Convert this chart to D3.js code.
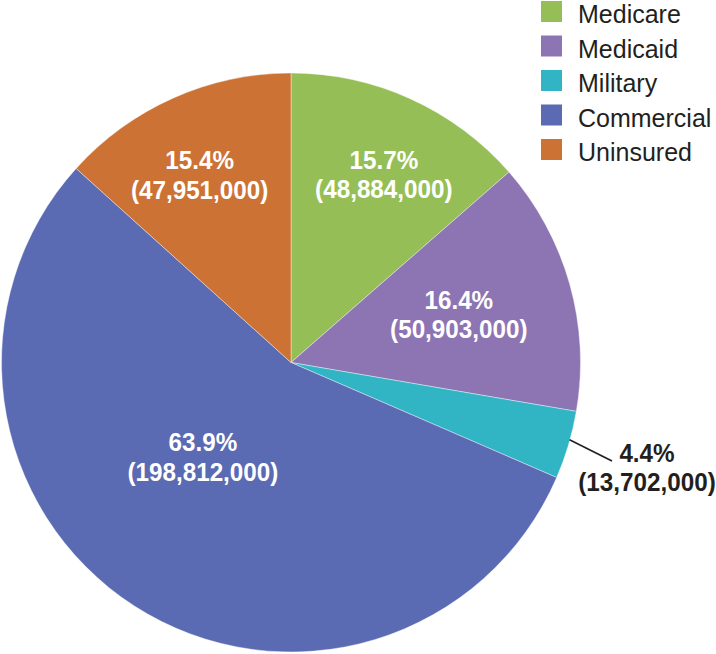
<!DOCTYPE html>
<html>
<head>
<meta charset="utf-8">
<script src="https://cdn.jsdelivr.net/npm/d3@7"></script>
<style>
  html, body { margin: 0; padding: 0; background: #fff; }
  svg { display: block; }
  text { font-family: "Liberation Sans", Arial, sans-serif; }
</style>
</head>
<body>
<svg id="chart" width="716" height="654"></svg>
<script>
const categories = ["Medicare", "Medicaid", "Military", "Commercial", "Uninsured"];
const values = [48884000, 50903000, 13702000, 198812000, 47951000];
const percentLabels = ["15.7%", "16.4%", "4.4%", "63.9%", "15.4%"];
const colors = ["#95bf56", "#8d74b3", "#31b4c3", "#5a6ab3", "#cc7235"];

const svg = d3.select("#chart");
const cx = 291, cy = 362.5, R = 289.5;

const pie = d3.pie().sort(null).value(d => d)(values);
const arc = d3.arc().innerRadius(0).outerRadius(R);

const g = svg.append("g").attr("transform", `translate(${cx},${cy})`);
g.selectAll("path.slice")
  .data(pie)
  .join("path")
  .attr("class", "slice")
  .attr("d", arc)
  .attr("fill", (d, i) => colors[i])
  .attr("stroke", "#fff")
  .attr("stroke-width", 0.4);

// label anchor placement (polar: angle in degrees clockwise from top, radius in px)
const labelPolar = [
  {a: 26.1, r: 211},
  {a: 73.5, r: 175},
  null,
  {a: 223.5, r: 128},
  {a: 334.2, r: 210}
];
const fmt = d3.format(",");

pie.forEach((d, i) => {
  const lp = labelPolar[i];
  if (!lp) return;
  const rad = lp.a * Math.PI / 180;
  const x = lp.r * Math.sin(rad), y = -lp.r * Math.cos(rad);
  const t = g.append("text")
    .attr("text-anchor", "middle")
    .attr("fill", "#fff")
    .attr("font-weight", "bold")
    .attr("font-size", 25)
    .attr("transform", `translate(${x},${y}) scale(0.97,1.05)`);
  t.append("tspan").attr("x", 0).attr("y", -4).text(percentLabels[i]);
  t.append("tspan").attr("x", 0).attr("y", 24).text(`(${fmt(values[i])})`);
});

// external label for Military
{
  const d = pie[2];
  const mid = (d.startAngle + d.endAngle) / 2;
  const p0 = [ (R - 1) * Math.sin(mid) + 2, -(R - 1) * Math.cos(mid) - 5 ];
  const p1 = [ 612 - cx, 461 - cy ];
  g.append("line")
    .attr("x1", p0[0]).attr("y1", p0[1])
    .attr("x2", p1[0]).attr("y2", p1[1])
    .attr("stroke", "#231f20").attr("stroke-width", 1.6);
  const t = g.append("text")
    .attr("text-anchor", "middle")
    .attr("fill", "#231f20")
    .attr("font-weight", "bold")
    .attr("font-size", 25)
    .attr("transform", `translate(${647 - cx},${466 - cy}) scale(0.97,1.05)`);
  t.append("tspan").attr("x", 0).attr("y", -4).text(percentLabels[2]);
  t.append("tspan").attr("x", 0).attr("y", 24).text(`(${fmt(values[2])})`);
}

// legend
const legend = svg.append("g").attr("transform", "translate(541,1)");
const ly = d3.scaleBand().domain(categories).range([0, 172.5]);
const items = legend.selectAll("g.item").data(categories).join("g")
  .attr("class", "item")
  .attr("transform", d => `translate(0,${ly(d)})`);
items.append("rect").attr("width", 21).attr("height", 21).attr("fill", (d, i) => colors[i]);
items.append("text")
  .attr("x", 37).attr("y", 22)
  .attr("font-size", 25)
  .attr("fill", "#231f20")
  .text(d => d);
</script>
</body>
</html>
